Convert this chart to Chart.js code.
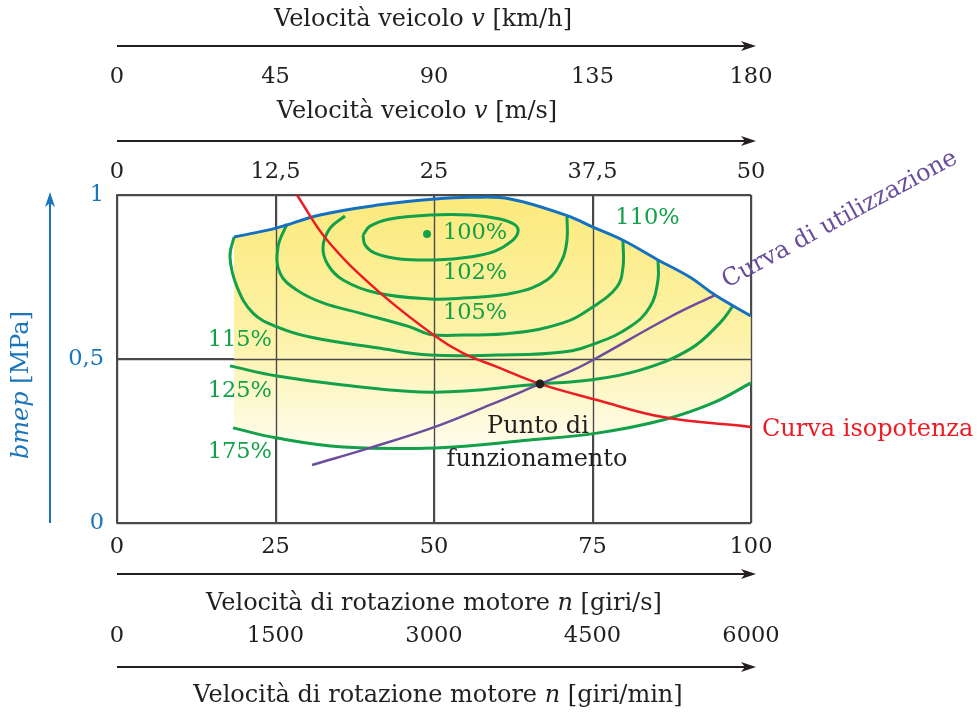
<!DOCTYPE html>
<html>
<head>
<meta charset="utf-8">
<title>Mappa del motore</title>
<script src="https://cdn.jsdelivr.net/npm/chart.js@4.4.1/dist/chart.umd.min.js"></script>
<style>
  html, body { margin: 0; padding: 0; background: #fff; }
</style>
</head>
<body>
<canvas id="map" width="977" height="713"></canvas>
<script>
// x = velocità di rotazione n [giri/s], y = bmep [MPa]
const nTicks = [0, 25, 50, 75, 100];
const rpmTicks = [0, 1500, 3000, 4500, 6000];
const kmhTicks = [0, 45, 90, 135, 180];
const msTicks = [0, 12.5, 25, 37.5, 50];
const bmepTicks = [0, 0.5, 1];

// curva di pieno carico
const fullLoad = [
  [18.45, 0.872], [25.08, 0.899], [32.02, 0.939], [41.48, 0.970], [50.16, 0.988],
  [55.7, 0.993], [62.0, 0.988], [70.98, 0.937], [75.08, 0.902], [79.81, 0.862],
  [85.33, 0.802], [90.4, 0.749], [94.32, 0.695], [100, 0.631]
];
// isolinee consumo specifico
const iso102 = [
  [38.8, 0.878], [39.91, 0.905], [43.06, 0.927], [49.37, 0.939], [55.68, 0.939],
  [60.41, 0.927], [62.78, 0.909], [63.25, 0.887], [62.3, 0.860], [59.62, 0.829],
  [55.68, 0.811], [50.16, 0.802], [44.64, 0.805], [40.69, 0.823], [39.12, 0.848], [38.8, 0.878]
];
const iso105 = [
  [35.96, 0.936], [33.6, 0.899], [32.49, 0.841], [33.28, 0.787], [35.65, 0.741],
  [41.01, 0.701], [49.37, 0.683], [54.57, 0.686], [62.46, 0.701], [67.82, 0.741],
  [70.19, 0.802], [70.98, 0.863], [70.98, 0.933]
];
const iso110 = [
  [26.81, 0.912], [25.39, 0.841], [25.71, 0.762], [28.39, 0.710], [32.49, 0.671],
  [38.33, 0.640], [46.21, 0.598], [49.37, 0.575], [54.57, 0.573], [62.46, 0.579],
  [70.35, 0.610], [75.08, 0.659], [78.86, 0.720], [79.81, 0.780], [79.81, 0.860]
];
const iso115 = [
  [18.45, 0.872], [17.82, 0.811], [18.93, 0.720], [21.45, 0.640], [25.24, 0.598],
  [30.44, 0.567], [41.01, 0.534], [49.37, 0.512], [59.94, 0.512], [70.35, 0.521],
  [75.71, 0.549], [80.91, 0.598], [84.07, 0.659], [85.33, 0.741], [85.33, 0.802]
];
const iso125 = [
  [17.82, 0.479], [25.24, 0.448], [35.65, 0.421], [50.16, 0.399], [66.72, 0.424],
  [74.61, 0.436], [82.49, 0.466], [90.38, 0.530], [95.11, 0.610], [97.16, 0.662]
];
const iso175 = [
  [18.3, 0.290], [25.24, 0.259], [35.65, 0.232], [50.16, 0.229], [65.14, 0.253],
  [75.71, 0.274], [86.12, 0.314], [94.01, 0.366], [100, 0.427]
];
const isopower = [
  [28.39, 1.0], [33.12, 0.863], [41.01, 0.710], [50.16, 0.570], [54.57, 0.518],
  [59.94, 0.476], [66.72, 0.424], [75.71, 0.375], [86.12, 0.323], [100, 0.293]
];
const utilizzazione = [
  [30.76, 0.177], [39.91, 0.229], [50.16, 0.293], [58.83, 0.360], [66.72, 0.424],
  [71.92, 0.466], [75.08, 0.497], [87.22, 0.628], [94.32, 0.695]
];
const minConsumo = [[48.9, 0.881]];
const puntoFunz = [[66.72, 0.424]];

const SERIF = '"DejaVu Serif", serif';
const FS_TXT = 24;
const FS_NUM = 22.5;
const GREEN = '#12a04a';
const BLUE = '#1a75bb';
const RED = '#ec1c24';
const PURPLE = '#6a4e9c';
const INK = '#231f20';
const GRID = '#4a4a4a';

const pts = arr => arr.map(([x, y]) => ({x, y}));
const fmt = v => String(v).replace('.', ',');
const font = (size, it) => (it ? 'italic ' : '') + size + 'px ' + SERIF;

function yellow(ctx) {
  const area = ctx.chart.chartArea;
  if (!area) return '#fdf3a8';
  const g = ctx.chart.ctx.createLinearGradient(0, area.top, 0, area.bottom - 70);
  g.addColorStop(0, '#fcea7c');
  g.addColorStop(0.55, '#fdf2a8');
  g.addColorStop(1, '#fffdf0');
  return g;
}

function line(data, color, width, order, extra) {
  return Object.assign({
    data: pts(data), showLine: true, borderColor: color, borderWidth: width,
    pointRadius: 0, tension: 0.4, fill: false, order: order
  }, extra || {});
}

// draws text made of [string, italic] pieces
function rich(ctx, parts, x, y, align, size) {
  const widths = parts.map(([t, it]) => {
    ctx.font = font(size, it);
    return ctx.measureText(t).width;
  });
  const total = widths.reduce((a, b) => a + b, 0);
  let cx = align === 'center' ? x - total / 2 : x;
  ctx.textAlign = 'left';
  parts.forEach(([t, it], i) => {
    ctx.font = font(size, it);
    ctx.fillText(t, cx, y);
    cx += widths[i];
  });
}

function arrow(ctx, x0, y0, x1, y1, color) {
  const a = Math.atan2(y1 - y0, x1 - x0);
  ctx.save();
  ctx.strokeStyle = color;
  ctx.fillStyle = color;
  ctx.lineWidth = 2;
  ctx.beginPath();
  ctx.moveTo(x0, y0);
  ctx.lineTo(x1 - 8 * Math.cos(a), y1 - 8 * Math.sin(a));
  ctx.stroke();
  ctx.translate(x1, y1);
  ctx.rotate(a);
  ctx.beginPath();
  ctx.moveTo(0, 0);
  ctx.lineTo(-15, -5);
  ctx.lineTo(-11, 0);
  ctx.lineTo(-15, 5);
  ctx.closePath();
  ctx.fill();
  ctx.restore();
}

// grid on top of the yellow area, below the curves
const gridOver = {
  id: 'gridOver',
  beforeDatasetsDraw(chart) {
    const {ctx, chartArea: a, scales: {x, y}} = chart;
    ctx.save();
    ctx.strokeStyle = GRID;
    ctx.lineWidth = 1.4;
    ctx.beginPath();
    nTicks.forEach(v => {
      const px = Math.round(x.getPixelForValue(v)) + 0.5;
      ctx.moveTo(px, a.top);
      ctx.lineTo(px, a.bottom);
    });
    bmepTicks.forEach(v => {
      const py = Math.round(y.getPixelForValue(v)) + 0.5;
      ctx.moveTo(a.left, py);
      ctx.lineTo(a.right, py);
    });
    ctx.stroke();
    ctx.restore();
  }
};

const decorations = {
  id: 'decorations',
  afterDraw(chart) {
    const {ctx, scales: {x, y}} = chart;
    const L = x.getPixelForValue(0), R = x.getPixelForValue(100);
    ctx.save();
    ctx.textBaseline = 'middle';
    ctx.fillStyle = INK;

    // scale superiori (velocità veicolo)
    rich(ctx, [['Velocità veicolo ', false], ['v', true], [' [km/h]', false]], 423, 20, 'center', FS_TXT);
    arrow(ctx, L, 46, R + 5, 46, INK);
    ctx.font = font(FS_NUM);
    ctx.textAlign = 'center';
    kmhTicks.forEach(v => ctx.fillText(fmt(v), x.getPixelForValue(v / 180 * 100), 77));
    rich(ctx, [['Velocità veicolo ', false], ['v', true], [' [m/s]', false]], 417, 112, 'center', FS_TXT);
    arrow(ctx, L, 141, R + 5, 141, INK);
    ctx.font = font(FS_NUM);
    ctx.textAlign = 'center';
    msTicks.forEach(v => ctx.fillText(fmt(v), x.getPixelForValue(v / 50 * 100), 172));

    // scale inferiori (velocità di rotazione)
    nTicks.forEach(v => ctx.fillText(fmt(v), x.getPixelForValue(v), 547));
    arrow(ctx, L, 574, R + 5, 574, INK);
    rich(ctx, [['Velocità di rotazione motore ', false], ['n', true], [' [giri/s]', false]], 434, 604, 'center', FS_TXT);
    ctx.font = font(FS_NUM);
    ctx.textAlign = 'center';
    rpmTicks.forEach(v => ctx.fillText(fmt(v), x.getPixelForValue(v / 60), 636));
    arrow(ctx, L, 667, R + 5, 667, INK);
    rich(ctx, [['Velocità di rotazione motore ', false], ['n', true], [' [giri/min]', false]], 438, 696, 'center', FS_TXT);

    // asse bmep
    ctx.fillStyle = BLUE;
    ctx.font = font(FS_NUM);
    ctx.textAlign = 'right';
    bmepTicks.forEach(v => ctx.fillText(fmt(v), 104, y.getPixelForValue(v)));
    arrow(ctx, 50, y.getPixelForValue(0), 50, 192, BLUE);
    ctx.save();
    ctx.translate(22, 385);
    ctx.rotate(-Math.PI / 2);
    rich(ctx, [['bmep', true], [' [MPa]', false]], 0, 0, 'center', FS_TXT);
    ctx.restore();

    // etichette isolinee
    ctx.fillStyle = GREEN;
    ctx.font = font(FS_NUM);
    ctx.textAlign = 'left';
    [['100%', 51.4, 0.884], ['102%', 51.4, 0.762], ['105%', 51.4, 0.640], ['110%', 78.6, 0.930]]
      .forEach(([t, n, b]) => ctx.fillText(t, x.getPixelForValue(n), y.getPixelForValue(b)));
    ctx.textAlign = 'right';
    [['115%', 0.558], ['125%', 0.403], ['175%', 0.217]]
      .forEach(([t, b]) => ctx.fillText(t, 272, y.getPixelForValue(b)));

    ctx.fillStyle = INK;
    ctx.font = font(FS_TXT);
    ctx.textAlign = 'center';
    ctx.fillText('Punto di', 538, 427);
    ctx.fillText('funzionamento', 537, 460);

    ctx.fillStyle = RED;
    ctx.textAlign = 'left';
    ctx.fillText('Curva isopotenza', 762, 430);

    ctx.fillStyle = PURPLE;
    ctx.save();
    ctx.translate(727, 288);
    ctx.rotate(-28.5 * Math.PI / 180);
    ctx.textBaseline = 'alphabetic';
    ctx.fillText('Curva di utilizzazione', 0, 0);
    ctx.restore();
    ctx.restore();
  }
};

new Chart(document.getElementById('map'), {
  type: 'scatter',
  data: {
    datasets: [
      line(fullLoad, '#1570c0', 3, 3, {fill: 7, backgroundColor: yellow}),
      line(iso102, GREEN, 3, 5),
      line(iso105, GREEN, 3, 5),
      line(iso110, GREEN, 3, 5),
      line(iso115, GREEN, 3, 5),
      line(iso125, GREEN, 3, 5),
      line(isopower, RED, 2.5, 2),
      line(iso175, GREEN, 3, 5),
      line(utilizzazione, PURPLE, 2.5, 2),
      {data: pts(minConsumo), pointRadius: 4, pointBackgroundColor: GREEN, pointBorderWidth: 0, order: 1},
      {data: pts(puntoFunz), pointRadius: 4.5, pointBackgroundColor: INK, pointBorderWidth: 0, order: 1}
    ]
  },
  options: {
    responsive: false,
    animation: false,
    devicePixelRatio: 1,
    layout: {padding: {left: 117, top: 195, right: 226, bottom: 190}},
    plugins: {
      legend: {display: false},
      tooltip: {enabled: false},
      filler: {drawTime: 'beforeDatasetsDraw'}
    },
    scales: {
      x: {
        type: 'linear', min: 0, max: 100,
        ticks: {display: false, stepSize: 25},
        grid: {color: GRID, lineWidth: 1.4, drawTicks: false},
        border: {color: GRID, width: 1.4}
      },
      y: {
        type: 'linear', min: 0, max: 1,
        ticks: {display: false, stepSize: 0.5},
        grid: {color: GRID, lineWidth: 1.4, drawTicks: false},
        border: {color: GRID, width: 1.4}
      }
    }
  },
  plugins: [gridOver, decorations]
});
</script>
</body>
</html>
